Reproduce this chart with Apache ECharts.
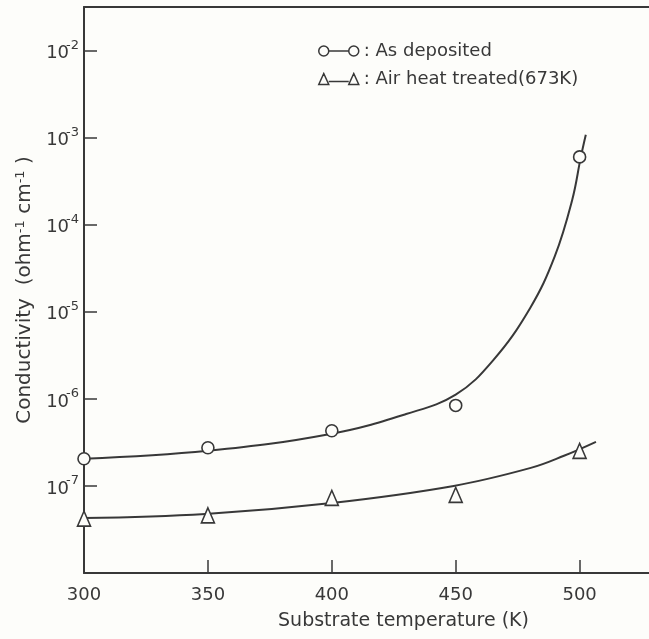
<!DOCTYPE html>
<html>
<head>
<meta charset="utf-8">
<script src="https://cdn.jsdelivr.net/npm/echarts@6/dist/echarts.min.js"></script>
<style>
  html, body { margin: 0; padding: 0; background: #fdfdfa; }
  #chart { width: 649px; height: 639px; }
</style>
</head>
<body>
<div id="chart"></div>
<script>
// measured points
const temps = [300, 350, 400, 450, 500]
const asDeposited = [2.05e-7, 2.74e-7, 4.3e-7, 8.4e-7, 6.0e-4]
const airTreated = [4.2e-8, 4.6e-8, 7.3e-8, 7.9e-8, 2.53e-7]

// hand drawn curves
const fitDepositedT = [300, 350, 400, 430, 450, 465, 480, 490, 497, 500.5, 502.5]
const fitDepositedY = [2.05e-7, 2.53e-7, 3.98e-7, 6.7e-7, 1.12e-6, 2.75e-6, 1.1e-5, 4.35e-5, 1.92e-4, 6.0e-4, 1.08e-3]
const fitTreatedT = [300, 349, 400, 449.2, 480.3, 493.7, 506.6]
const fitTreatedY = [4.27e-8, 4.76e-8, 6.37e-8, 1.0e-7, 1.61e-7, 2.22e-7, 3.21e-7]

const xLabels = [300, 350, 400, 450, 500]
const xTickMarks = [350, 400, 450, 500]

const ink = '#383838'
const font = 'DejaVu Sans'

const zip = (a, b) => a.map((v, i) => [v, b[i]])

const chart = echarts.init(document.getElementById('chart'))

const option = {
  backgroundColor: '#fdfdfa',
  textStyle: { fontFamily: font, color: ink },
  grid: { left: 84, right: 0, top: 7, bottom: 66 },
  legend: {
    orient: 'vertical',
    left: 313,
    top: 37,
    itemGap: 10,
    itemWidth: 40,
    itemHeight: 11,
    selectedMode: false,
    textStyle: { fontFamily: font, fontSize: 18, color: ink },
    itemStyle: { color: '#fdfdfa', borderColor: ink, borderWidth: 1.5 },
    data: [
      {
        name: 'As deposited',
        icon: 'path://M0,5.5 A5,5 0 1,1 10,5.5 A5,5 0 1,1 0,5.5 Z M10,5.5 L30,5.5 M30,5.5 A5,5 0 1,1 40,5.5 A5,5 0 1,1 30,5.5 Z'
      },
      {
        name: 'Air heat treated(673K)',
        icon: 'path://M0,11 L5,0 L10,11 Z M10,8 L30,8 M30,11 L35,0 L40,11 Z'
      }
    ],
    formatter: name => ': ' + name
  },
  xAxis: [
    {
      type: 'value',
      min: 300,
      max: 528,
      interval: 50,
      name: 'Substrate temperature (K)',
      nameLocation: 'middle',
      nameGap: 39,
      nameTextStyle: { fontSize: 19, color: ink, padding: [0, 0, 0, 74] },
      axisLine: { lineStyle: { color: ink, width: 2 } },
      axisTick: { inside: true, length: 13, customValues: xTickMarks, lineStyle: { color: ink, width: 1.5 } },
      axisLabel: {
        fontSize: 18,
        color: ink,
        margin: 13,
        customValues: xLabels
      },
      splitLine: { show: false }
    },
    {
      type: 'value',
      position: 'top',
      min: 300,
      max: 528,
      axisLine: { show: true, lineStyle: { color: ink, width: 2 } },
      axisTick: { show: false },
      axisLabel: { show: false },
      splitLine: { show: false }
    }
  ],
  yAxis: {
    type: 'log',
    logBase: 10,
    min: 1e-8,
    max: 3.16e-2,
    interval: 1,
    name: 'Conductivity  (ohm{s|-1} cm{s|-1} )',
    nameLocation: 'middle',
    nameGap: 44,
    nameTextStyle: {
      fontSize: 20,
      color: ink,
      rich: {
        s: { fontSize: 13, padding: [0, 0, 10, 0], color: ink }
      }
    },
    axisLine: { lineStyle: { color: ink, width: 2 } },
    axisTick: { inside: true, length: 13, lineStyle: { color: ink, width: 1.5 } },
    axisLabel: {
      margin: 5,
      formatter: v => {
        const e = Math.log10(v)
        const r = Math.round(e)
        if (Math.abs(e - r) > 1e-6 || r <= -8 || r > -2) return ''
        return '{b|10}{s|-' + (-r) + '}'
      },
      rich: {
        b: { fontSize: 18, color: ink, padding: [6, 0, 0, 0] },
        s: { fontSize: 13, color: ink, padding: [0, 0, 10, -3] }
      }
    },
    splitLine: { show: false }
  },
  series: [
    {
      name: 'fit deposited',
      type: 'line',
      data: zip(fitDepositedT, fitDepositedY),
      smooth: 0.4,
      showSymbol: false,
      lineStyle: { color: ink, width: 2 },
      z: 2
    },
    {
      name: 'fit treated',
      type: 'line',
      data: zip(fitTreatedT, fitTreatedY),
      smooth: 0.4,
      showSymbol: false,
      lineStyle: { color: ink, width: 2 },
      z: 2
    },
    {
      name: 'As deposited',
      type: 'scatter',
      data: zip(temps, asDeposited),
      symbol: 'circle',
      symbolSize: 12,
      itemStyle: { color: '#fdfdfa', borderColor: ink, borderWidth: 1.6, opacity: 1 },
      z: 5
    },
    {
      name: 'Air heat treated(673K)',
      type: 'scatter',
      data: zip(temps, airTreated),
      symbol: 'triangle',
      symbolSize: [13, 15],
      itemStyle: { color: '#fdfdfa', borderColor: ink, borderWidth: 1.6, opacity: 1 },
      z: 5
    }
  ]
}

chart.setOption(option)
</script>
</body>
</html>
